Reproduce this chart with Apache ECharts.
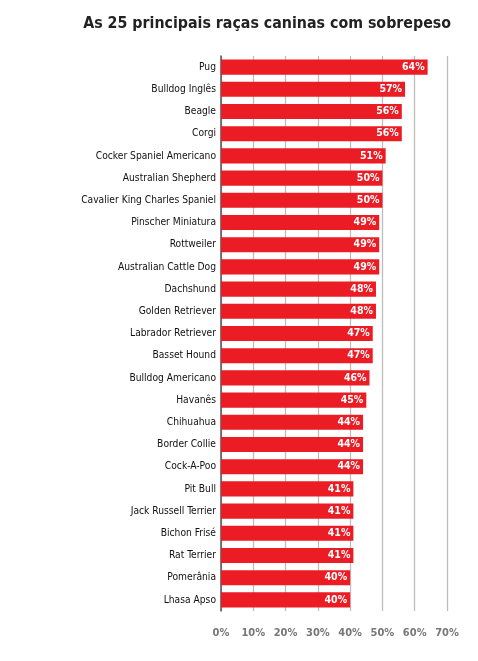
<!DOCTYPE html>
<html><head><meta charset="utf-8">
<script src="https://cdn.jsdelivr.net/npm/echarts@6/dist/echarts.min.js"></script>
<style>html,body{margin:0;padding:0;background:#fff}#c{width:478px;height:661px}</style>
</head><body><div id="c"></div>
<script>
const titleText = 'As 25 principais raças caninas com sobrepeso';
const breeds = ['Pug','Bulldog Inglês','Beagle','Corgi','Cocker Spaniel Americano','Australian Shepherd','Cavalier King Charles Spaniel','Pinscher Miniatura','Rottweiler','Australian Cattle Dog','Dachshund','Golden Retriever','Labrador Retriever','Basset Hound','Bulldog Americano','Havanês','Chihuahua','Border Collie','Cock-A-Poo','Pit Bull','Jack Russell Terrier','Bichon Frisé','Rat Terrier','Pomerânia','Lhasa Apso'];
const overweightPct = [64,57,56,56,51,50,50,49,49,49,48,48,47,47,46,45,44,44,44,41,41,41,41,40,40];
const xTicks = [0,10,20,30,40,50,60,70];
const FONT = '"Liberation Sans Narrow","DejaVu Sans Condensed",sans-serif';

const chart = echarts.init(document.getElementById('c'), null, {renderer:'canvas'});
chart.setOption({
  animation:false,
  backgroundColor:'#fff',
  title:{text:titleText, right:22, top:11, textStyle:{fontFamily:FONT, fontSize:15.8, fontWeight:'bold', color:'#222'}},
  grid:{left:221, right:31, top:56, bottom:50},
  xAxis:{type:'value', min:xTicks[0], max:xTicks[xTicks.length-1], interval:10,
    axisLine:{show:false}, axisTick:{show:false},
    splitLine:{show:true, lineStyle:{color:'#bdbdbd', width:1.3}},
    axisLabel:{formatter:'{value}%', color:'#777', fontFamily:FONT, fontSize:11, fontWeight:'bold', margin:17}},
  yAxis:{type:'category', data:breeds, inverse:true,
    axisLine:{show:true, lineStyle:{color:'#555', width:1.5}}, axisTick:{show:false},
    axisLabel:{color:'#111', fontFamily:FONT, fontSize:10.2, margin:5}},
  series:[{type:'bar', data:overweightPct, barCategoryGap:'32%',
    itemStyle:{color:'#ec1c24'},
    label:{show:true, position:'insideRight', formatter:'{c}%', color:'#fff', fontFamily:FONT, fontSize:10.5, fontWeight:'bold', distance:3}}]
});
</script></body></html>
